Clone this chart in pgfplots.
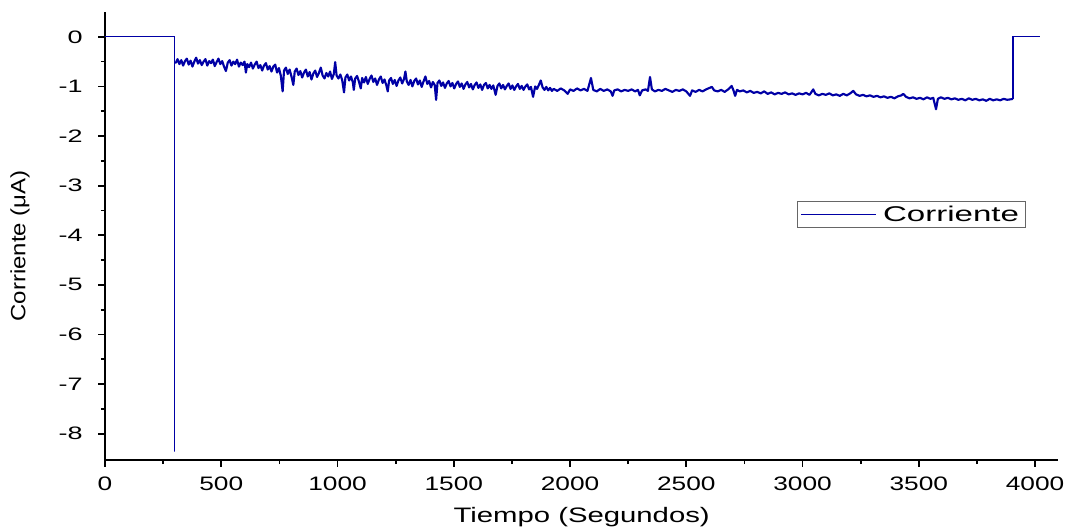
\documentclass[border=0pt]{standalone}
\usepackage{pgfplots}
\pgfplotsset{compat=1.18}
\usepackage{fontspec}
\setmainfont{Liberation Sans}
\newfontfamily\xtickfont[FakeStretch=1.35]{Liberation Sans}
\newfontfamily\ytickfont[FakeStretch=1.5]{Liberation Sans}
\newfontfamily\xlabfont[FakeStretch=1.4]{Liberation Sans}
\newfontfamily\ylabfont[FakeStretch=1.16]{Liberation Sans}
\newfontfamily\legfont[FakeStretch=1.55]{Liberation Sans}
\definecolor{lineblue}{RGB}{0,0,165}
\begin{document}
\begin{tikzpicture}
\useasboundingbox (-78.75pt,-51.75pt) rectangle (722.25pt,345pt);
\begin{axis}[
  scale only axis,
  width=715pt, height=336pt,
  at={(0,0)}, anchor=south west,
  xmin=0, xmax=4100, ymin=-8.53, ymax=0.5,
  axis x line*=bottom, axis y line*=left,
  axis line style={-, line width=1.3pt},
  every tick/.style={black, line width=1.3pt},
  tick align=outside,
  major tick length=5pt, minor tick length=3pt,
  xtick={0,500,...,4000}, minor x tick num=1,
  ytick={-8,-7,...,0}, minor y tick num=1,
  /pgf/number format/assume math mode=true,
  /pgf/number format/set thousands separator={},
  xticklabel style={font=\xtickfont\fontsize{14.6}{16}\selectfont, anchor=base, yshift=-18pt},
  yticklabel style={font=\ytickfont\fontsize{13.5}{15}\selectfont, anchor=east, inner sep=0pt, xshift=-11.5pt},
  xlabel={Tiempo (Segundos)},
  ylabel={Corriente (μA)},
  xlabel style={font=\xlabfont\fontsize{15.7}{17}\selectfont, at={(axis description cs:0.5,-0.1406)}, anchor=base},
  ylabel style={font=\ylabfont\fontsize{15.5}{17}\selectfont, at={(axis description cs:-0.0892,0.478)}, anchor=center},
  legend style={at={(axis description cs:0.726,0.578)}, anchor=north west, draw=gray!80!black, line width=0.75pt,
    font=\legfont\fontsize{16}{17}\selectfont, inner xsep=2.5pt, inner ysep=1pt, column sep=3pt},
  legend image code/.code={\draw[#1, line width=0.6pt] (0pt,0pt) -- (56pt,0pt);},
  clip=false,
]
\addplot[color=lineblue, line width=0.8pt] coordinates {
(0,0) (300,0) (300,-8.36) (300,-0.52)
};
\addlegendentry{Corriente}
\addplot[color=lineblue, line width=0.8pt, forget plot] coordinates {
(3905,-1.25) (3905,0) (4020,0)
};
\addplot[color=lineblue, line width=1.6pt, line join=round, forget plot] coordinates {
(300,-0.52) (305,-0.52) (312,-0.45) (320,-0.55) (328,-0.47) (336,-0.58) (344,-0.49) (352,-0.44)
(360,-0.56) (368,-0.48) (376,-0.60) (384,-0.50) (392,-0.42) (400,-0.54) (408,-0.47) (416,-0.57)
(424,-0.50) (432,-0.45) (440,-0.58) (448,-0.49) (456,-0.53) (464,-0.46) (472,-0.59) (480,-0.51)
(488,-0.44) (496,-0.55) (504,-0.49) (512,-0.60) (520,-0.69) (528,-0.52) (536,-0.47) (544,-0.58)
(552,-0.50) (560,-0.55) (568,-0.46) (576,-0.60) (584,-0.52) (592,-0.57) (600,-0.50) (606,-0.72)
(612,-0.55) (620,-0.61) (628,-0.52) (636,-0.64) (644,-0.56) (652,-0.50) (660,-0.63) (668,-0.57)
(676,-0.68) (684,-0.58) (692,-0.53) (700,-0.66) (708,-0.59) (716,-0.70) (724,-0.60) (732,-0.56)
(740,-0.72) (748,-0.63) (756,-0.78) (764,-1.10) (770,-0.68) (778,-0.62) (786,-0.75) (794,-0.66)
(802,-0.80) (810,-0.97) (816,-0.70) (824,-0.64) (832,-0.77) (840,-0.69) (848,-0.82) (856,-0.72)
(864,-0.66) (872,-0.80) (880,-0.71) (888,-0.86) (896,-0.74) (904,-0.68) (912,-0.81) (920,-0.73)
(928,-0.62) (936,-0.78) (944,-0.84) (952,-0.73) (960,-0.80) (968,-0.70) (976,-0.85) (984,-0.75)
(990,-0.51) (996,-0.78) (1004,-0.84) (1012,-0.76) (1020,-0.87) (1028,-1.12) (1034,-0.82) (1042,-0.76)
(1050,-0.88) (1058,-0.80) (1066,-0.92) (1070,-1.07) (1076,-0.84) (1084,-0.79) (1092,-0.90) (1100,-1.04)
(1106,-0.83) (1114,-0.92) (1122,-0.81) (1130,-0.95) (1138,-0.85) (1146,-0.78) (1154,-0.91) (1162,-0.84)
(1170,-0.97) (1178,-0.86) (1186,-0.80) (1194,-0.93) (1202,-0.86) (1210,-0.98) (1216,-1.10) (1222,-0.88)
(1230,-0.83) (1238,-0.95) (1246,-0.87) (1254,-0.99) (1262,-0.88) (1270,-0.82) (1278,-0.94) (1286,-0.85)
(1292,-0.70) (1298,-0.90) (1306,-0.97) (1314,-0.87) (1322,-1.00) (1330,-0.89) (1338,-0.84) (1346,-0.96)
(1354,-0.88) (1362,-1.01) (1370,-0.90) (1378,-0.80) (1386,-0.95) (1394,-0.89) (1402,-1.02) (1410,-0.91)
(1418,-0.97) (1424,-1.27) (1430,-0.93) (1438,-0.88) (1446,-0.99) (1454,-0.92) (1462,-1.03) (1470,-0.94)
(1478,-0.89) (1486,-1.00) (1494,-0.93) (1502,-1.04) (1510,-0.95) (1518,-0.90) (1526,-1.01) (1534,-0.94)
(1542,-1.05) (1550,-0.96) (1558,-0.91) (1566,-1.02) (1574,-0.95) (1582,-1.06) (1590,-0.97) (1598,-0.92)
(1606,-1.03) (1614,-0.96) (1622,-1.07) (1630,-0.97) (1638,-0.93) (1646,-1.04) (1654,-0.97) (1662,-1.05)
(1670,-0.98) (1680,-1.17) (1688,-0.99) (1696,-0.94) (1704,-1.04) (1712,-0.97) (1720,-1.06) (1728,-0.99)
(1736,-0.94) (1744,-1.05) (1752,-0.98) (1760,-1.07) (1768,-1.00) (1776,-0.95) (1784,-1.05) (1792,-0.99)
(1800,-1.07) (1808,-1.00) (1816,-0.96) (1824,-1.06) (1832,-1.01) (1841,-1.21) (1850,-1.00) (1858,-1.05)
(1866,-0.97) (1874,-0.88) (1882,-1.02) (1890,-1.07) (1898,-1.01) (1906,-1.08) (1914,-1.03) (1922,-1.09)
(1930,-1.05) (1945,-1.09) (1960,-1.04) (1975,-1.08) (1990,-1.15) (2000,-1.06) (2015,-1.09) (2030,-1.04)
(2045,-1.08) (2060,-1.05) (2075,-1.09) (2090,-0.83) (2100,-1.07) (2115,-1.10) (2130,-1.05) (2145,-1.09)
(2160,-1.06) (2175,-1.10) (2183,-1.19) (2190,-1.08) (2205,-1.06) (2220,-1.10) (2235,-1.07) (2250,-1.09)
(2265,-1.06) (2280,-1.10) (2292,-1.07) (2300,-1.18) (2310,-1.08) (2325,-1.06) (2335,-1.09) (2344,-0.81)
(2352,-1.06) (2365,-1.10) (2380,-1.07) (2395,-1.09) (2410,-1.05) (2425,-1.08) (2440,-1.11) (2455,-1.07)
(2470,-1.09) (2485,-1.06) (2500,-1.10) (2516,-1.19) (2525,-1.08) (2540,-1.11) (2555,-1.07) (2570,-1.10)
(2585,-1.06) (2600,-1.03) (2610,-1.01) (2620,-1.08) (2635,-1.10) (2650,-1.07) (2665,-1.11) (2680,-1.06)
(2695,-0.99) (2703,-1.08) (2710,-1.19) (2718,-1.07) (2730,-1.10) (2745,-1.08) (2760,-1.12) (2775,-1.09)
(2790,-1.13) (2805,-1.11) (2820,-1.14) (2835,-1.10) (2850,-1.15) (2865,-1.12) (2880,-1.16) (2895,-1.13)
(2910,-1.15) (2925,-1.12) (2940,-1.16) (2955,-1.14) (2970,-1.17) (2985,-1.14) (3000,-1.16) (3015,-1.13)
(3030,-1.17) (3046,-1.06) (3055,-1.15) (3070,-1.18) (3085,-1.15) (3100,-1.17) (3115,-1.14) (3130,-1.18)
(3145,-1.16) (3160,-1.19) (3175,-1.15) (3190,-1.18) (3205,-1.14) (3218,-1.09) (3230,-1.16) (3245,-1.19)
(3260,-1.17) (3275,-1.20) (3290,-1.18) (3305,-1.21) (3320,-1.19) (3335,-1.22) (3350,-1.20) (3365,-1.23)
(3380,-1.21) (3395,-1.24) (3410,-1.20) (3425,-1.18) (3433,-1.15) (3445,-1.21) (3460,-1.24) (3475,-1.22)
(3490,-1.25) (3505,-1.23) (3520,-1.26) (3535,-1.22) (3550,-1.25) (3562,-1.23) (3574,-1.46) (3582,-1.25)
(3595,-1.22) (3610,-1.25) (3625,-1.23) (3640,-1.26) (3655,-1.24) (3670,-1.27) (3685,-1.25) (3700,-1.28)
(3715,-1.24) (3730,-1.27) (3745,-1.25) (3760,-1.28) (3775,-1.26) (3790,-1.29) (3805,-1.25) (3820,-1.28)
(3835,-1.26) (3850,-1.28) (3865,-1.25) (3880,-1.27) (3895,-1.26) (3905,-1.25)
};
\end{axis}
\end{tikzpicture}
\end{document}
